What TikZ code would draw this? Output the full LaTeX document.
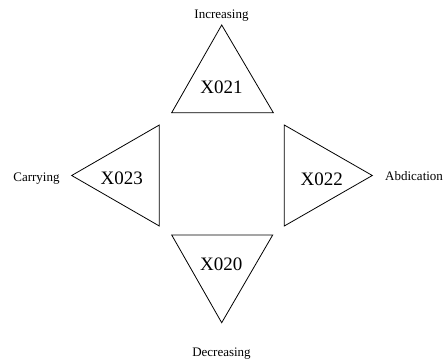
\documentclass[tikz,border=0pt]{standalone}
\usepackage{fontspec}
\setmainfont{Liberation Serif}
\begin{document}
\begin{tikzpicture}[x=1pt,y=-1pt,
  tri/.style={draw=black,line width=0.8pt,line join=miter},
  big/.style={font=\fontsize{19}{19}\selectfont,anchor=base},
  lbl/.style={font=\fontsize{13}{13}\selectfont,anchor=base,inner sep=0pt}]
\useasboundingbox (0,0) rectangle (444,361);
% top
\coordinate (t1) at (221.7,25);
\coordinate (t2) at (171.7,112.7);
\coordinate (t3) at (273.3,112.7);
\draw[tri] (t1) -- (t2) -- (t3) -- cycle;
\node[big] (x021) at (221.5,93.3) {X021};
\node[lbl] (inc) at (221.5,18.5) {Increasing};
% left
\coordinate (l1) at (71.7,175.5);
\coordinate (l2) at (159.3,125);
\coordinate (l3) at (159.3,226);
\draw[tri] (l1) -- (l2) -- (l3) -- cycle;
\node[big] (x023) at (121.7,184) {X023};
\node[lbl] (car) at (36.5,181) {Carrying};
% right
\coordinate (r1) at (372.3,175.5);
\coordinate (r2) at (284.3,125);
\coordinate (r3) at (284.3,226);
\draw[tri] (r1) -- (r2) -- (r3) -- cycle;
\node[big] (x022) at (321.7,185) {X022};
\node[lbl,anchor=base west] (abd) at (385,180) {Abdication};
% bottom
\coordinate (b1) at (221.7,322.7);
\coordinate (b2) at (171.7,235);
\coordinate (b3) at (272.7,235);
\draw[tri] (b1) -- (b2) -- (b3) -- cycle;
\node[big] (x020) at (221.3,270) {X020};
\node[lbl] (dec) at (221.5,356.5) {Decreasing};
\end{tikzpicture}
\end{document}
